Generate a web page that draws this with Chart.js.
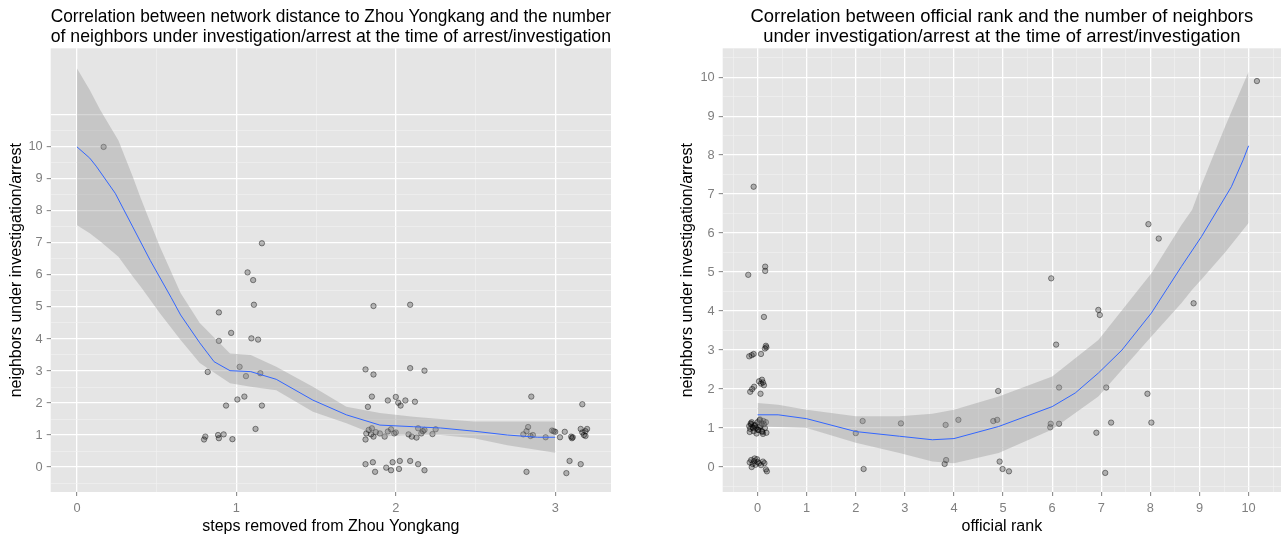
<!DOCTYPE html>
<html>
<head>
<meta charset="utf-8">
<script src="https://cdn.jsdelivr.net/npm/chart.js@4"></script>
<style>
  body { margin: 0; background: #fff; width: 1286px; height: 539px; overflow: hidden; }
  .panel { position: absolute; top: 0; width: 643px; height: 539px; }
</style>
</head>
<body>
<div class="panel" style="left:0"><canvas id="distChart" width="643" height="539"></canvas></div>
<div class="panel" style="left:643px"><canvas id="rankChart" width="643" height="539"></canvas></div>
<script>
// left panel: steps removed from Zhou Yongkang (jittered points)
let distX = [0.167,
  1.16, 1.07, 1.105, 1.11, 0.89, 0.967, 0.89, 1.094, 1.136, 0.82, 1.02, 1.06, 1.15, 1.006, 1.05, 0.935, 1.16, 1.12,
  0.797, 0.805, 0.89, 0.885, 0.92, 0.975,
  1.86, 2.09, 1.81, 1.86, 2.09, 2.18, 1.85, 1.825, 1.95, 2.0, 2.015, 2.03, 2.06, 2.12,
  1.81, 1.815, 1.83, 1.845, 1.86, 1.875, 1.9, 1.93, 1.95, 1.97, 1.99, 2.0, 2.08, 2.1, 2.13, 2.16, 2.17, 2.18, 2.23, 2.25, 1.85, 2.14,
  1.81, 1.856, 1.87, 1.94, 1.97, 1.98, 2.02, 2.025, 2.09, 2.14, 2.18,
  2.85, 3.17, 2.8, 2.82, 2.83, 2.845, 2.86, 2.94, 2.98, 2.99, 3.0, 3.03, 3.06, 3.1, 3.105, 3.11,
  3.16, 3.17, 3.18, 3.19, 3.2, 3.19, 3.09, 3.16, 2.82, 3.07];
let distY = [10.0,
  6.99, 6.08, 5.84, 5.07, 4.83, 4.19, 3.94, 4.02, 3.98, 2.97, 3.13, 2.84, 2.93, 2.11, 2.2, 1.92, 1.92, 1.19,
  0.86, 0.95, 0.9, 1.0, 1.02, 0.87,
  5.03, 5.07, 3.05, 2.89, 3.09, 3.01, 2.2, 1.88, 2.08, 2.19, 2.01, 1.92, 2.08, 2.04,
  0.86, 1.05, 1.16, 1.02, 0.95, 1.09, 1.05, 0.95, 1.11, 1.18, 1.05, 1.08, 1.02, 0.95, 0.92, 1.05, 1.12, 1.16, 1.03, 1.18, 1.21, 1.21,
  0.09, 0.15, -0.15, -0.02, -0.1, 0.15, -0.06, 0.19, 0.19, 0.09, -0.1,
  2.2, 1.96, 1.02, 1.12, 1.25, 0.97, 1.0, 0.93, 1.14, 1.12, 1.1, 0.93, 1.1, 0.95, 0.9, 0.93,
  1.19, 1.08, 1.0, 1.12, 1.19, 0.97, 0.19, 0.09, -0.15, -0.19];

// left panel: loess fit and confidence band
let distFitX = [0, 0.08, 0.12, 0.24, 0.35, 0.46, 0.59, 0.65, 0.77, 0.86, 0.96, 1.09, 1.25, 1.48, 1.69, 1.9, 2.11, 2.28, 2.49, 2.7, 2.89, 3];
let distFit = [10, 9.65, 9.4, 8.55, 7.5, 6.45, 5.3, 4.75, 3.88, 3.29, 3.01, 2.98, 2.74, 2.09, 1.63, 1.31, 1.26, 1.22, 1.12, 1.0, 0.93, 0.93];
let distBandX = [0, 0.08, 0.145, 0.26, 0.35, 0.40, 0.52, 0.65, 0.77, 0.96, 1.09, 1.25, 1.48, 1.69, 1.9, 2.11, 2.28, 2.49, 2.7, 3];
let distUpper = [12.45, 11.78, 11.16, 10.2, 9.07, 8.4, 6.88, 5.44, 4.5, 3.55, 3.5, 3.13, 2.51, 1.88, 1.69, 1.57, 1.5, 1.42, 1.42, 1.42];
let distLower = [7.55, 7.3, 7.05, 6.57, 5.95, 5.63, 4.8, 3.97, 3.25, 2.62, 2.51, 2.4, 1.73, 1.37, 0.95, 1.0, 1.0, 0.9, 0.68, 0.45];

// right panel: official rank (jittered points)
let rankX = [-0.08, -0.19, 0.155, 0.155, 0.13,
  0.15, 0.17, 0.18, 0.07, -0.17, -0.12, -0.08,
  0.03, 0.07, 0.09, 0.11, -0.15, -0.11, -0.07, 0.06, 0.13,
  -0.17, -0.15, -0.13, -0.1, -0.08, -0.05, -0.03, 0.0, 0.02, 0.04, 0.06, 0.08, 0.1, 0.12, 0.15, 0.18,
  -0.16, -0.12, -0.09, -0.06, -0.02, 0.01, 0.05, 0.09, 0.13, 0.17, -0.14, 0.03, 0.11,
  -0.16, -0.13, -0.1, -0.07, -0.04, -0.01, 0.03, 0.07, 0.11, 0.14, -0.12, -0.06, 0.0, 0.17, 0.19,
  2.0, 2.14, 2.16, 2.92, 3.83, 4.09, 3.81, 3.84, 4.8, 4.88, 4.9, 4.93, 4.99, 5.12,
  5.98, 6.08, 6.14, 5.97, 5.96, 6.14, 6.94, 6.97, 7.1, 6.9, 7.2, 7.08,
  7.96, 8.17, 7.94, 8.02, 8.88, 10.17];
let rankY = [7.19, 4.93, 5.14, 5.03, 3.85,
  3.04, 3.11, 3.07, 2.9, 2.84, 2.87, 2.9,
  2.2, 2.14, 2.24, 2.17, 1.93, 2.0, 2.06, 1.88, 2.1,
  1.05, 0.98, 1.1, 1.02, 0.92, 1.08, 1.0, 1.15, 0.95, 1.2, 1.05, 1.12, 0.9, 1.18, 1.0, 0.88,
  0.9, 1.15, 1.0, 1.06, 0.86, 0.95, 1.22, 0.92, 1.1, 1.15, 1.12, 1.02, 0.85,
  0.12, 0.18, 0.08, 0.15, 0.06, 0.2, 0.1, 0.05, 0.14, 0.1, 0.0, 0.22, 0.13, -0.06, -0.11,
  0.87, 1.18, -0.05, 1.12, 1.08, 1.21, 0.08, 0.18, 1.18, 1.21, 1.95, 0.14, -0.05, -0.11,
  4.84, 3.14, 2.04, 1.11, 1.02, 1.11, 4.03, 3.9, 2.04, 0.88, 1.14, -0.15,
  6.23, 5.86, 1.88, 1.14, 4.2, 9.9];

// right panel: loess fit and confidence band
let rankFitX = [0, 0.42, 1, 2, 2.89, 3.56, 4.0, 4.91, 6.0, 6.47, 6.94, 7.42, 8.02, 8.63, 9.04, 9.65, 9.89, 10];
let rankFit = [1.34, 1.34, 1.24, 0.91, 0.79, 0.7, 0.73, 1.04, 1.55, 1.9, 2.41, 3.0, 3.95, 5.14, 5.91, 7.19, 7.88, 8.24];
let rankBandX = [0, 0.42, 1, 2, 2.89, 3.56, 4.0, 4.91, 6.0, 6.94, 8.02, 8.63, 8.85, 9.03, 9.52, 10];
let rankUpper = [1.64, 1.6, 1.47, 1.3, 1.3, 1.37, 1.47, 1.81, 2.32, 3.26, 4.97, 6.2, 6.6, 7.2, 8.73, 10.14];
let rankLower = [1.04, 1.03, 1.0, 0.62, 0.36, 0.14, 0.1, 0.36, 0.96, 1.81, 3.35, 4.2, 4.55, 4.8, 5.5, 6.26];

let font = 'Liberation Sans, Arial, sans-serif';

function pts(xs, ys) {
  return xs.map((x, i) => ({ x: x, y: ys[i] }));
}

// grey plot panel like ggplot
let plotBg = {
  id: 'plotBg',
  beforeDraw(chart) {
    let a = chart.chartArea;
    chart.ctx.save();
    chart.ctx.fillStyle = '#e5e5e5';
    chart.ctx.fillRect(a.left, a.top, a.width, a.height);
    chart.ctx.restore();
  }
};

function halfSteps(from, to) {
  let out = [];
  for (let v = from; v <= to + 1e-9; v += 0.5) out.push({ value: Math.round(v * 10) / 10 });
  return out;
}

function axis(opts) {
  let isMajor = v => Number.isInteger(v) && v >= opts.labelMin && v <= opts.labelMax;
  return {
    type: 'linear',
    min: opts.min,
    max: opts.max,
    afterBuildTicks: s => { s.ticks = halfSteps(opts.gridFrom, opts.gridTo); },
    afterFit: s => { if (opts.width) s.width = opts.width; if (opts.height) s.height = opts.height; },
    border: { display: false },
    grid: {
      color: c => Number.isInteger(c.tick.value) ? '#ffffff' : '#f2f2f2',
      lineWidth: c => Number.isInteger(c.tick.value) ? 1.3 : 0.6,
      tickColor: c => isMajor(c.tick.value) ? '#7f7f7f' : 'rgba(0,0,0,0)',
      tickLength: 4,
      tickWidth: 1
    },
    ticks: {
      autoSkip: false,
      maxRotation: 0,
      padding: opts.tickPad,
      color: '#7f7f7f',
      font: { family: font, size: 12.8 },
      callback: v => isMajor(v) ? String(v) : ''
    },
    title: {
      display: true,
      text: opts.title,
      color: '#000',
      font: { family: font, size: 16 },
      padding: opts.titlePad
    }
  };
}

function makeChart(id, cfg) {
  return new Chart(document.getElementById(id), {
    type: 'scatter',
    data: {
      datasets: [
        {
          data: pts(cfg.fitX, cfg.fit),
          showLine: true,
          borderColor: '#3366ff',
          borderWidth: 1,
          pointRadius: 0,
          fill: false,
          order: 0
        },
        {
          data: pts(cfg.bandX, cfg.upper),
          showLine: true,
          borderWidth: 0,
          borderColor: 'rgba(0,0,0,0)',
          backgroundColor: 'rgba(153,153,153,0.4)',
          pointRadius: 0,
          fill: '+1',
          order: 1
        },
        {
          data: pts(cfg.bandX, cfg.lower),
          showLine: true,
          borderWidth: 0,
          borderColor: 'rgba(0,0,0,0)',
          pointRadius: 0,
          fill: false,
          order: 2
        },
        {
          data: pts(cfg.xs, cfg.ys),
          pointRadius: 2.7,
          pointBackgroundColor: 'rgba(0,0,0,0.24)',
          pointBorderColor: 'rgba(0,0,0,0.42)',
          pointBorderWidth: 1,
          order: 3
        }
      ]
    },
    options: {
      responsive: false,
      animation: false,
      layout: { padding: { left: 0, right: cfg.rightPad, top: 0, bottom: 0 } },
      plugins: {
        legend: { display: false },
        tooltip: { enabled: false },
        title: {
          display: true,
          text: cfg.title,
          fullSize: false,
          color: '#000',
          font: { family: font, size: 18.4, weight: 'normal', lineHeight: 1.09 },
          padding: { top: 7, bottom: 1.2 }
        }
      },
      scales: {
        x: axis(cfg.xAxis),
        y: axis(cfg.yAxis)
      }
    },
    plugins: [plotBg]
  });
}

makeChart('distChart', {
  xs: distX, ys: distY,
  fitX: distFitX, fit: distFit,
  bandX: distBandX, upper: distUpper, lower: distLower,
  rightPad: 32,
  title: ['Correlation between network distance to Zhou Yongkang and the number',
          'of neighbors under investigation/arrest at the time of arrest/investigation'],
  xAxis: { min: -0.165, max: 3.35, gridFrom: 0, gridTo: 3, labelMin: 0, labelMax: 3,
           height: 47, tickPad: 5, title: 'steps removed from Zhou Yongkang', titlePad: { top: 0, bottom: 2.4 } },
  yAxis: { min: -0.78, max: 13.08, gridFrom: -0.5, gridTo: 11, labelMin: 0, labelMax: 10,
           width: 50.7, tickPad: 4, title: 'neighbors under investigation/arrest', titlePad: { top: 7.4, bottom: 0 } }
});

makeChart('rankChart', {
  xs: rankX, ys: rankY,
  fitX: rankFitX, fit: rankFit,
  bandX: rankBandX, upper: rankUpper, lower: rankLower,
  rightPad: 3,
  title: ['Correlation between official rank and the number of neighbors',
          'under investigation/arrest at the time of arrest/investigation'],
  xAxis: { min: -0.71, max: 10.66, gridFrom: -0.5, gridTo: 10.5, labelMin: 0, labelMax: 10,
           height: 47, tickPad: 5, title: 'official rank', titlePad: { top: 0, bottom: 2.4 } },
  yAxis: { min: -0.64, max: 10.74, gridFrom: -0.5, gridTo: 10.5, labelMin: 0, labelMax: 10,
           width: 79.7, tickPad: 4, title: 'neighbors under investigation/arrest', titlePad: { top: 35.4, bottom: 0 } }
});
</script>
</body>
</html>
